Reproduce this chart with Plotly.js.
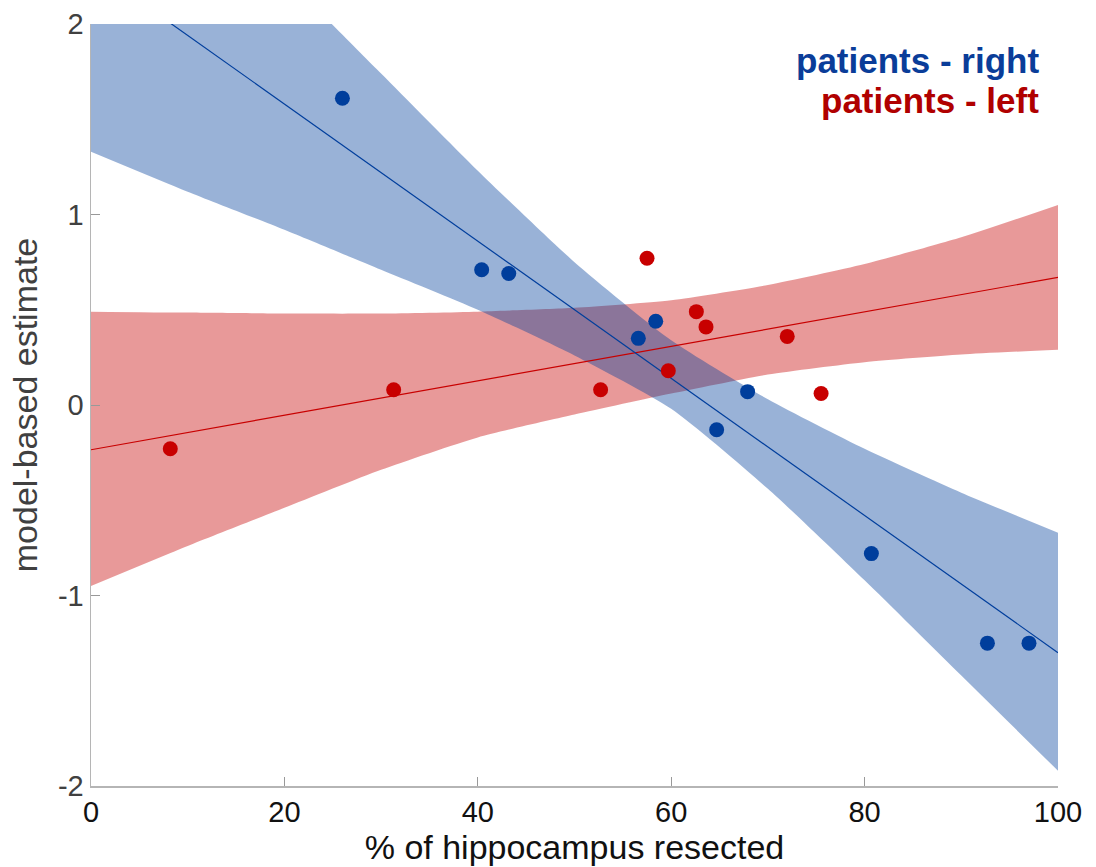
<!DOCTYPE html>
<html>
<head>
<meta charset="utf-8">
<script src="https://cdn.plot.ly/plotly-3.0.1.min.js"></script>
<style>html,body{margin:0;padding:0;background:#fff;}#chart{width:1096px;height:867px;}</style>
</head>
<body>
<div id="chart"></div>
<script>
// Data
const rightX = [26.0, 40.4, 43.2, 56.6, 58.4, 64.7, 67.9, 80.7, 92.7, 97.0];
const rightY = [1.61, 0.71, 0.69, 0.35, 0.44, -0.13, 0.07, -0.78, -1.25, -1.25];
const leftX  = [8.2, 31.3, 52.7, 57.5, 59.7, 62.6, 63.6, 72.0, 75.5];
const leftY  = [-0.23, 0.08, 0.08, 0.77, 0.18, 0.49, 0.41, 0.36, 0.06];

const fitX = [0, 100];
const rightFitY = [2.30, -1.30];
const leftFitY  = [-0.235, 0.67];

const bandX = [0, 10, 20, 30, 40, 50, 60, 70, 80, 90, 100];
const rightUpper = [3.27, 2.76, 2.25, 1.74, 1.23, 0.75, 0.34, 0.03, -0.23, -0.46, -0.67];
const rightLower = [1.33, 1.12, 0.92, 0.71, 0.50, 0.26, -0.02, -0.44, -0.92, -1.42, -1.92];
const leftUpper  = [0.49, 0.485, 0.48, 0.48, 0.49, 0.51, 0.55, 0.63, 0.74, 0.88, 1.05];
const leftLower  = [-0.95, -0.74, -0.54, -0.34, -0.17, -0.05, 0.06, 0.16, 0.225, 0.265, 0.29];

const yTicks = [-2, -1, 0, 1, 2];
const yTickText = ['-2', '-1', '0', '1', '2'];
const xTicks = [0, 20, 40, 60, 80, 100];
const legendLabels = ['patients - right', 'patients - left'];

const BLUE = '#003e9c';
const RED = '#c80000';

function band(x, lo, hi, fill) {
  return [
    {x: x, y: lo, mode: 'lines', line: {width: 0, color: 'rgba(0,0,0,0)', shape: 'spline', smoothing: 0.6}, hoverinfo: 'skip', showlegend: false},
    {x: x, y: hi, mode: 'lines', fill: 'tonexty', fillcolor: fill, line: {width: 0, color: 'rgba(0,0,0,0)', shape: 'spline', smoothing: 0.6}, hoverinfo: 'skip', showlegend: false}
  ];
}

const traces = [].concat(
  band(bandX, leftLower, leftUpper, 'rgba(198,0,0,0.4)'),
  band(bandX, rightLower, rightUpper, 'rgba(0,62,156,0.4)'),
  [
    {x: fitX, y: leftFitY, mode: 'lines', line: {color: RED, width: 1.2}, showlegend: false},
    {x: fitX, y: rightFitY, mode: 'lines', line: {color: BLUE, width: 1.2}, showlegend: false},
    {x: leftX, y: leftY, mode: 'markers', marker: {color: RED, size: 15}, showlegend: false},
    {x: rightX, y: rightY, mode: 'markers', marker: {color: BLUE, size: 15}, showlegend: false}
  ]
);

const layout = {
  width: 1096, height: 867,
  margin: {l: 91, r: 38, t: 24, b: 81},
  paper_bgcolor: '#fff', plot_bgcolor: '#fff',
  font: {family: 'Liberation Sans, Arial, sans-serif'},
  showlegend: false,
  xaxis: {
    range: [0, 100], tickvals: xTicks, ticks: 'inside', ticklen: 9, tickcolor: '#999',
    showline: true, linecolor: '#b5b5b5', linewidth: 1.5, showgrid: false, zeroline: false,
    tickfont: {size: 29, color: '#111'},
    title: {text: '% of hippocampus resected', font: {size: 34, color: '#111'}, standoff: 4}
  },
  yaxis: {
    range: [-2, 2], tickvals: yTicks, ticktext: yTickText, ticks: 'inside', ticklen: 9, tickcolor: '#999',
    showline: true, linecolor: '#b5b5b5', linewidth: 1.5, showgrid: false, zeroline: false,
    tickfont: {size: 29, color: '#404040'},
    title: {text: 'model-based estimate', font: {size: 34, color: '#404040'}, standoff: 10}
  },
  annotations: [
    {text: '<b>' + legendLabels[0] + '</b>', xref: 'paper', yref: 'paper', x: 0.982, y: 0.952,
     xanchor: 'right', yanchor: 'middle', showarrow: false, font: {size: 35, color: '#0a3d99'}},
    {text: '<b>' + legendLabels[1] + '</b>', xref: 'paper', yref: 'paper', x: 0.982, y: 0.899,
     xanchor: 'right', yanchor: 'middle', showarrow: false, font: {size: 35, color: '#b00000'}}
  ]
};

Plotly.newPlot('chart', traces, layout, {displayModeBar: false, staticPlot: true});
</script>
</body>
</html>
